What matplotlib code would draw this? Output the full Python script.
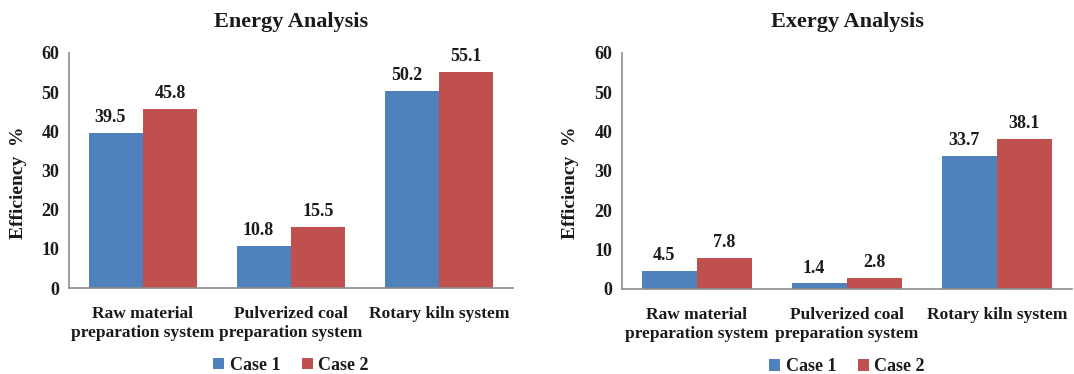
import numpy as np
import matplotlib.pyplot as plt

plt.rcParams['font.family'] = 'Liberation Serif'
plt.rcParams['font.weight'] = 'bold'

categories = ['Raw material\npreparation system',
              'Pulverized coal\npreparation system',
              'Rotary kiln system']
series_names = ['Case 1', 'Case 2']
energy_case1 = [39.5, 10.8, 50.2]
energy_case2 = [45.8, 15.5, 55.1]
exergy_case1 = [4.5, 1.4, 33.7]
exergy_case2 = [7.8, 2.8, 38.1]
yticks = [0, 10, 20, 30, 40, 50, 60]

colors = ['#4F81BD', '#C0504D']
txt = '#1a1a1a'


def panel(ax, title, case1, case2):
    x = np.arange(len(categories))
    w = 0.365
    for off, vals, c, name in [(-w / 2, case1, colors[0], series_names[0]),
                               (w / 2, case2, colors[1], series_names[1])]:
        bars = ax.bar(x + off, vals, w, color=c, label=name, edgecolor='none')
        for b, v in zip(bars, vals):
            ax.annotate(f'{v:.1f}', (b.get_x() + b.get_width() / 2, v),
                        xytext=(-4 if off < 0 else 0, 5), textcoords='offset points',
                        ha='center', va='bottom', fontsize=13, color=txt,
                        fontweight='bold')
    ax.set_xlim(-0.5, 2.5)
    ax.set_ylim(0, 60)
    ax.set_yticks(yticks)
    ax.set_xticks(x)
    ax.set_xticklabels(categories, fontsize=12.5, linespacing=1.25, color=txt)
    ax.tick_params(axis='y', length=0, pad=7, labelsize=13, labelcolor=txt)
    ax.tick_params(axis='x', length=0, pad=13)
    for s in ['top', 'right']:
        ax.spines[s].set_visible(False)
    for s in ['left', 'bottom']:
        ax.spines[s].set_color('#8c8c8c')
        ax.spines[s].set_linewidth(1.2)
    ax.set_ylabel('Efficiency  %', fontsize=14, color=txt, fontweight='bold')
    ax.yaxis.set_label_coords(-0.095, 0.45)
    ax.set_title(title, fontsize=16, color=txt, pad=19, fontweight='bold')
    ax.legend(loc='center', bbox_to_anchor=(0.5, -0.33), ncol=2, frameon=False,
              fontsize=13, handlelength=0.6, handleheight=0.6,
              handletextpad=0.3, columnspacing=1.2, labelcolor=txt)


fig = plt.figure(figsize=(10.74, 3.74), dpi=100)
ax1 = fig.add_axes([0.0642, 0.2299, 0.4134, 0.6284])
ax2 = fig.add_axes([0.5791, 0.2273, 0.4190, 0.6310])
panel(ax1, 'Energy Analysis', energy_case1, energy_case2)
panel(ax2, 'Exergy Analysis', exergy_case1, exergy_case2)

fig.savefig('out.png', dpi=100)
